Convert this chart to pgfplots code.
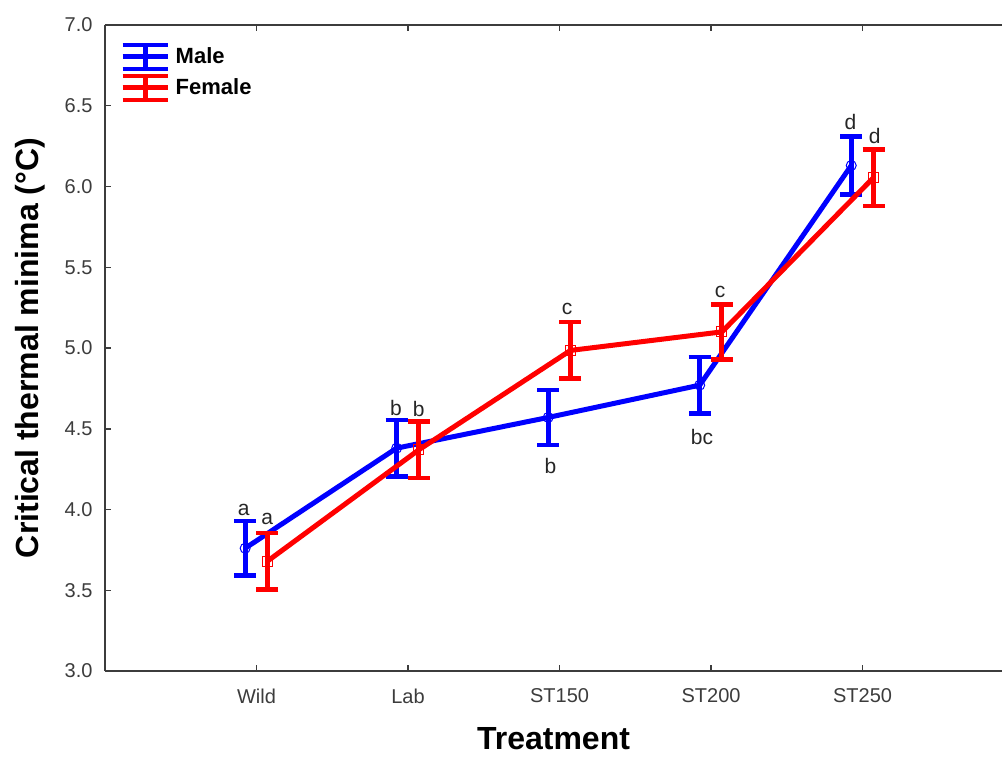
\documentclass[border=0pt]{standalone}
\usepackage{pgfplots}
\pgfplotsset{compat=1.18}
\usepackage{pgfplotstable}
\usepackage{fontspec}
\setmainfont{Liberation Sans}

\definecolor{mblue}{RGB}{0,0,255}
\definecolor{fred}{RGB}{255,0,0}
\definecolor{axgray}{RGB}{60,60,60}

% treatment index (offset per sex), mean, error
\pgfplotstableread{
x      y     err
-0.075 3.76  0.17
0.925  4.38  0.175
1.925  4.57  0.17
2.925  4.77  0.175
3.925  6.13  0.18
}\male
\pgfplotstableread{
x      y     err
0.072  3.68  0.175
1.072  4.37  0.175
2.072  4.985 0.175
3.072  5.10  0.17
4.072  6.055 0.175
}\female

\begin{document}
\begin{tikzpicture}
\useasboundingbox (-105pt,-87pt) rectangle (898pt,671pt);
\begin{axis}[
  scale only axis,
  width=897pt, height=646pt,
  xmin=-1, xmax=4.92,
  ymin=3, ymax=7,
  axis x line*=box, axis y line*=left,
  axis line style={axgray, line width=2pt},
  tick style={axgray, line width=1.5pt},
  major tick length=6pt,
  tick align=inside,
  xtick={0,1,2,3,4},
  xticklabels={Wild,Lab,ST150,ST200,ST250},
  ytick={3,3.5,...,7},
  yticklabel style={xshift=-9pt, /pgf/number format/.cd, fixed, fixed zerofill, precision=1, assume math mode=true},
  tick label style={font=\fontsize{20}{20}\selectfont, text=axgray},
  xticklabel style={yshift=-14pt},
  xlabel={Treatment},
  ylabel={Critical thermal minima (°C)},
  label style={font=\bfseries\fontsize{32}{32}\selectfont},
  x label style={at={(rel axis cs:0.5,0)}, anchor=center, inner sep=0pt, yshift=-68pt},
  y label style={at={(rel axis cs:0,0.5)}, anchor=center, yshift=75pt},
  legend style={at={(rel axis cs:0,1)}, anchor=north west, xshift=12pt, yshift=-15pt,
    draw=none, fill=none, font=\bfseries\fontsize{22}{22}\selectfont, row sep=2pt},
  legend cell align=left,
  clip=false,
]
\addlegendimage{legend image code/.code={
  \path[draw=none] (0pt,0pt) -- (51pt,0pt);
  \draw[mblue, line width=5pt] (0pt,0pt) -- (45pt,0pt);
  \draw[mblue, line width=5pt] (22.5pt,-12pt) -- (22.5pt,12pt);
  \draw[mblue, line width=4pt] (0pt,12pt) -- (45pt,12pt);
  \draw[mblue, line width=4pt] (0pt,-12pt) -- (45pt,-12pt);
}}
\addlegendentry{Male}
\addlegendimage{legend image code/.code={
  \path[draw=none] (0pt,0pt) -- (51pt,0pt);
  \draw[fred, line width=5pt] (0pt,0pt) -- (45pt,0pt);
  \draw[fred, line width=5pt] (22.5pt,-12pt) -- (22.5pt,12pt);
  \draw[fred, line width=4pt] (0pt,12pt) -- (45pt,12pt);
  \draw[fred, line width=4pt] (0pt,-12pt) -- (45pt,-12pt);
}}
\addlegendentry{Female}

\addplot[forget plot, color=mblue, line width=5pt, mark=o, mark size=5pt,
  mark options={line width=1pt, solid, fill=none},
  error bars/.cd, y dir=both, y explicit,
  error bar style={line width=5pt},
  error mark options={rotate=90, mark size=11pt, line width=4.5pt}]
  table[x=x, y=y, y error=err] {\male};
\addplot[forget plot, color=fred, line width=5pt, mark=square, mark size=5pt,
  mark options={line width=1pt, solid, fill=none},
  error bars/.cd, y dir=both, y explicit,
  error bar style={line width=5pt},
  error mark options={rotate=90, mark size=11pt, line width=4.5pt}]
  table[x=x, y=y, y error=err] {\female};

\begin{scope}[every node/.style={font=\fontsize{21}{21}\selectfont, text=black!85}]
\node at (axis cs:-0.085,4.00) {a};
\node at (axis cs:0.07,3.94) {a};
\node at (axis cs:0.92,4.63) {b};
\node at (axis cs:1.07,4.62) {b};
\node at (axis cs:1.94,4.27) {b};
\node at (axis cs:2.05,5.24) {c};
\node at (axis cs:2.94,4.45) {bc};
\node at (axis cs:3.06,5.35) {c};
\node at (axis cs:3.92,6.40) {d};
\node at (axis cs:4.08,6.31) {d};
\end{scope}
\end{axis}
\end{tikzpicture}
\end{document}
